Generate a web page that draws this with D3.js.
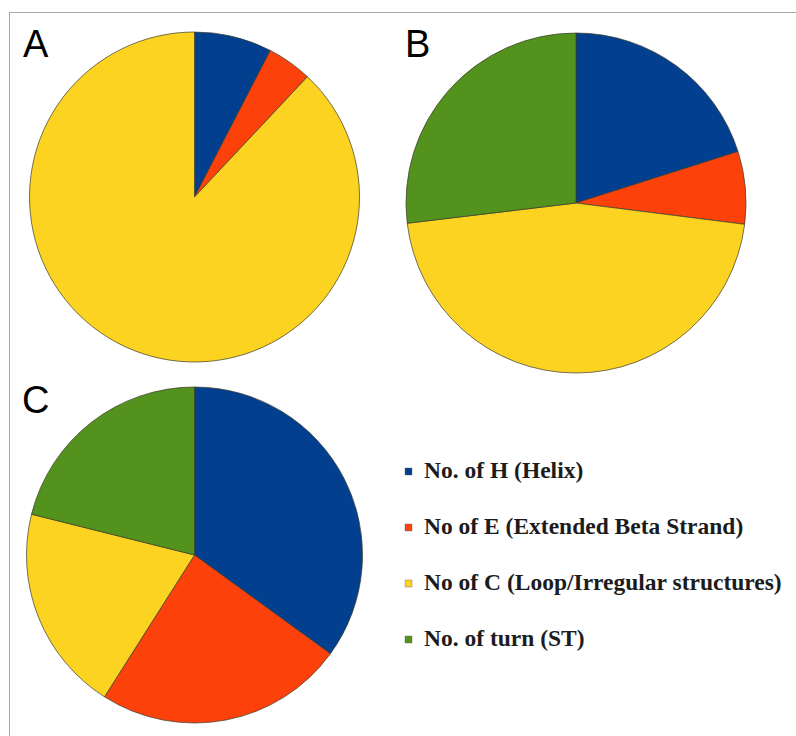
<!DOCTYPE html>
<html>
<head>
<meta charset="utf-8">
<script src="https://cdn.jsdelivr.net/npm/d3@7"></script>
<style>
  html, body { margin: 0; padding: 0; background: #fff; }
  svg { display: block; }
</style>
</head>
<body>
<svg id="chart" width="796" height="736"></svg>
<script>
// Secondary-structure composition (percent of residues) for three proteins
const categories = [
  "No. of H (Helix)",
  "No of E (Extended Beta Strand)",
  "No of C (Loop/Irregular structures)",
  "No. of turn (ST)"
];
const colors = ["#033f8f", "#fd410a", "#fcd321", "#54921e"];
const panelLabels = ["A", "B", "C"];
const valuesA = [7.6, 4.4, 88.0, 0];
const valuesB = [20.1, 6.9, 46.1, 26.9];
const valuesC = [35.0, 24.0, 19.9, 21.1];

const svg = d3.select("#chart");

// frame of the figure panel (only top and left edges fall inside the view)
svg.append("rect")
  .attr("x", 9.5).attr("y", 12.5)
  .attr("width", 900).attr("height", 900)
  .attr("fill", "#fff")
  .attr("stroke", "#a8a8a8").attr("stroke-width", 1);

const color = d3.scaleOrdinal().domain(categories).range(colors);
const pie = d3.pie().sort(null).value(d => d.value);

const panels = [
  { label: panelLabels[0], values: valuesA, cx: 194.5, cy: 197, r: 165, lx: 23, ly: 57 },
  { label: panelLabels[1], values: valuesB, cx: 576, cy: 203, r: 170, lx: 405, ly: 57 },
  { label: panelLabels[2], values: valuesC, cx: 194.5, cy: 555, r: 168, lx: 22, ly: 413 }
];

panels.forEach(p => {
  const data = categories.map((c, i) => ({ cat: c, value: p.values[i] }))
    .filter(d => d.value > 0);
  const arc = d3.arc().innerRadius(0).outerRadius(p.r);
  const g = svg.append("g").attr("transform", `translate(${p.cx},${p.cy})`);
  g.selectAll("path")
    .data(pie(data))
    .join("path")
    .attr("d", arc)
    .attr("fill", d => color(d.data.cat))
    .attr("stroke", "#3a3a2a")
    .attr("stroke-width", 0.7)
    .attr("stroke-linejoin", "round");

  svg.append("text")
    .attr("x", p.lx).attr("y", p.ly)
    .attr("font-family", "'Liberation Sans', Arial, Helvetica, sans-serif")
    .attr("font-size", 38)
    .attr("fill", "#000")
    .text(p.label);
});

// legend
const legend = svg.append("g").attr("transform", "translate(405,478)");
const rowStep = 56;
const items = legend.selectAll("g")
  .data(categories)
  .join("g")
  .attr("transform", (d, i) => `translate(0,${i * rowStep})`);

items.append("rect")
  .attr("x", 0).attr("y", -10)
  .attr("width", 7).attr("height", 7)
  .attr("fill", d => color(d))
  .attr("stroke", "#666")
  .attr("stroke-width", 0.4);

items.append("text")
  .attr("x", 19).attr("y", 0)
  .attr("font-family", "'Liberation Serif', 'Times New Roman', serif")
  .attr("font-weight", "bold")
  .attr("font-size", 23.5)
  .attr("fill", "#1c1c1c")
  .text(d => d);
</script>
</body>
</html>
